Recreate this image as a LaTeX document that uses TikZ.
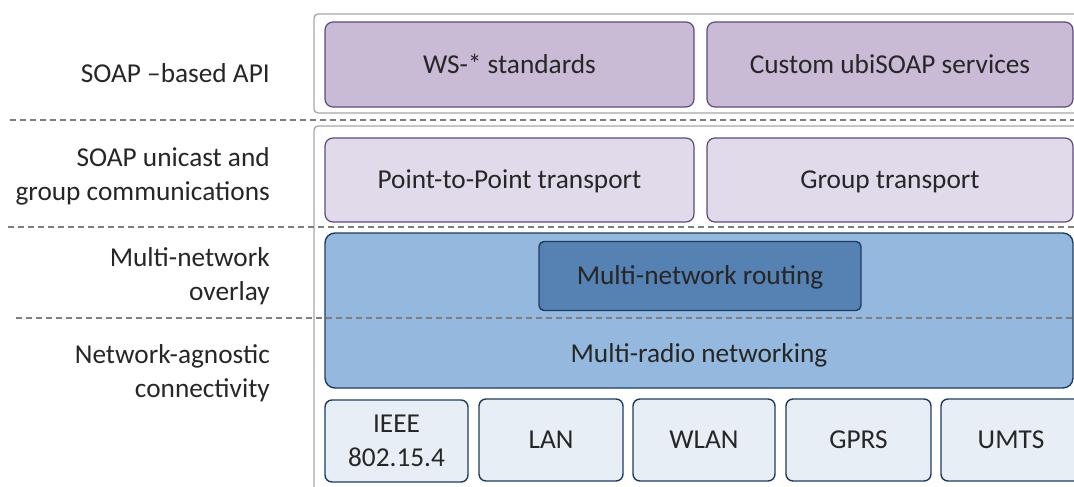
\documentclass[tikz,border=0pt]{standalone}
\usepackage{fontspec}
\setmainfont{Carlito}
\definecolor{txt}{HTML}{262626}
\definecolor{grayline}{HTML}{A6A6A6}
\definecolor{dashc}{HTML}{7F7F7F}
\definecolor{purpA}{HTML}{C9BAD6}
\definecolor{purpB}{HTML}{E1DAEA}
\definecolor{purpL}{HTML}{5F497A}
\definecolor{blueA}{HTML}{95B8DE}
\definecolor{blueB}{HTML}{5581B3}
\definecolor{blueC}{HTML}{E8EEF6}
\definecolor{blueL}{HTML}{1F3D5E}
\tikzset{
  lbl/.style={font=\fontsize{27.3}{33.5}\selectfont, text=txt, align=right, inner sep=0pt},
  boxfont/.style={rounded corners=8pt, font=\fontsize{27.3}{34}\selectfont, text=txt, align=center, inner sep=0pt},
  boxbase/.style={boxfont, text height=17.6pt, text depth=0pt},
  apibox/.style={boxbase, fill=purpA, draw=purpL, line width=1.2pt},
  transbox/.style={boxbase, fill=purpB, draw=purpL, line width=1.2pt},
  radiobox/.style={rounded corners=10pt, fill=blueA, draw=blueL, line width=1.4pt, inner sep=0pt},
  routebox/.style={boxbase, rounded corners=5pt, fill=blueB, draw=blueL, line width=1.4pt},
  netshape/.style={rounded corners=7pt, fill=blueC, draw=blueL, line width=1.4pt},
  netbox/.style={boxbase, netshape},
  netbox2/.style={boxfont, netshape},
  frame/.style={draw=grayline, line width=1.3pt, rounded corners=4pt},
  sep/.style={draw=dashc, line width=1.2pt, dash pattern=on 6pt off 4pt},
}
\begin{document}
\begin{tikzpicture}[x=1pt,y=-1pt]
\useasboundingbox (0,0) rectangle (1074,487);
\clip (0,0) rectangle (1074,487);
% frames
\draw[frame] (314,14) rectangle (1085,113);
\draw[frame] (314,126) rectangle (1085,500);
% API row
\node[apibox, minimum width=369pt, minimum height=85pt] (ws) at (509.5,64.5) {WS-* standards};
\node[apibox, minimum width=366pt, minimum height=85pt] (custom) at (890,64.5) {Custom ubiSOAP services};
% transport row
\node[transbox, minimum width=369pt, minimum height=84pt] (p2p) at (509.5,180) {Point-to-Point transport};
\node[transbox, minimum width=366pt, minimum height=84pt] (group) at (890,180) {Group transport};
% multi-radio
\node[radiobox, minimum width=748pt, minimum height=155pt] (radio) at (699,310.5) {};
\node[boxbase] (radiotext) at (699,354) {Multi-radio networking};
\node[routebox, minimum width=322pt, minimum height=69pt] (route) at (700,276) {Multi-network routing};
% networks
\node[netbox2, minimum width=143pt, minimum height=82pt] (ieee) at (396.5,441) {IEEE\\802.15.4};
\node[netbox, minimum width=144pt, minimum height=82pt] (lan) at (551,440) {LAN};
\node[netbox, minimum width=142pt, minimum height=82pt] (wlan) at (704,440) {WLAN};
\node[netbox, minimum width=145pt, minimum height=82pt] (gprs) at (858.5,440) {GPRS};
\node[netbox, minimum width=140pt, minimum height=82pt] (umts) at (1011,440) {UMTS};
% dashed separators
\coordinate (s1a) at (10,120); \coordinate (s1b) at (1074,120);
\coordinate (s2a) at (8,227); \coordinate (s2b) at (1074,227);
\coordinate (s3a) at (16,318); \coordinate (s3b) at (1074,318);
\draw[sep] (s1a) -- (s1b);
\draw[sep] (s2a) -- (s2b);
\draw[sep] (s3a) -- (s3b);
% left labels (base = last line's baseline)
\node[lbl, anchor=base east] (l1) at (270,82) {SOAP –based API};
\node[lbl, anchor=base east] (l2) at (270,200) {SOAP unicast and\\group communications};
\node[lbl, anchor=base east] (l3) at (270,300) {Multi-network\\overlay};
\node[lbl, anchor=base east] (l4) at (270,397) {Network-agnostic\\connectivity};
\end{tikzpicture}
\end{document}
